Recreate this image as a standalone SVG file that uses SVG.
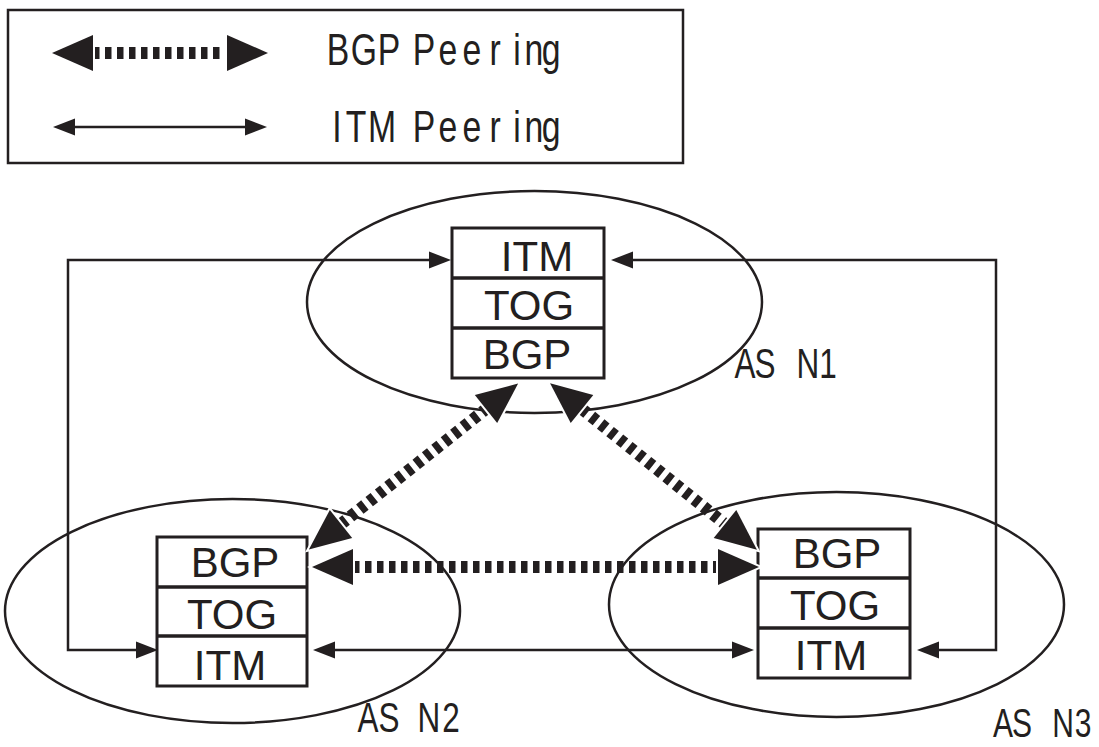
<svg xmlns="http://www.w3.org/2000/svg" width="1099" height="747" viewBox="0 0 1099 747">
  <defs>
    <style>
      .frame { fill: none; stroke: #231f20; stroke-width: 2.5; }
      .as { fill: none; stroke: #231f20; stroke-width: 2.5; }
      .stack { fill: #fff; stroke: #231f20; stroke-width: 3; }
      .div { stroke: #231f20; stroke-width: 3.5; }
      .cell { font-family: "Liberation Sans", Arial, sans-serif; font-size: 42px; fill: #231f20; text-anchor: middle; }
      .cond { font-family: "Liberation Sans", Arial, sans-serif; fill: #231f20; text-anchor: middle; }
      .itm { fill: none; stroke: #231f20; stroke-width: 2.5; marker-start: url(#itmHead); marker-end: url(#itmHead); }
      .bgp { fill: none; stroke: #231f20; stroke-width: 12; stroke-dasharray: 6.5 5.5; marker-start: url(#bgpHead); marker-end: url(#bgpHead); }
    </style>
    <marker id="bgpHead" markerUnits="userSpaceOnUse" orient="auto-start-reverse" refX="0" refY="0" markerWidth="50" markerHeight="46" viewBox="-4 -23 50 46" overflow="visible">
      <path d="M0,-18 L41,0 L0,18 Z" fill="#231f20" stroke="#fff" stroke-width="4" stroke-linejoin="miter" paint-order="stroke"/>
    </marker>
    <marker id="itmHead" markerUnits="userSpaceOnUse" orient="auto-start-reverse" refX="0" refY="0" markerWidth="26" markerHeight="20" viewBox="-2 -10 26 20" overflow="visible">
      <path d="M0,-8.5 L22,0 L0,8.5 Z" fill="#231f20"/>
    </marker>
  </defs>

  <rect width="1099" height="747" fill="#fff"/>

  <!-- legend -->
  <g id="legend">
    <rect class="frame" x="8" y="10" width="675" height="153"/>
    <line class="bgp" x1="93" y1="53" x2="227" y2="53"/>
    <line class="itm" x1="75" y1="127" x2="245" y2="127"/>
    <text class="cond" font-size="45" transform="scale(0.75,1)" y="65" x="450.7 485.3 518.7 541.3 565.3 597.3 629.3 660 689.3 712 734.7">BGP Peering</text>
    <text class="cond" font-size="45" transform="scale(0.75,1)" y="142" x="449.3 474.7 509.3 537.3 565.3 597.3 629.3 660 689.3 712 734.7">ITM Peering</text>
  </g>

  <!-- AS N1 -->
  <g id="as-n1">
    <ellipse class="as" cx="534.5" cy="302" rx="227.5" ry="111"/>
    <rect class="stack" x="452" y="228" width="152" height="150"/>
    <line class="div" x1="452" y1="278" x2="604" y2="278"/>
    <line class="div" x1="452" y1="328" x2="604" y2="328"/>
    <text class="cell" x="537" y="271">ITM</text>
    <text class="cell" x="529" y="320">TOG</text>
    <text class="cell" x="527" y="369">BGP</text>
    <text class="cond" font-size="42" transform="scale(0.75,1)" y="378" x="993.3 1020 1048 1077.3 1104">AS N1</text>
  </g>

  <!-- AS N2 -->
  <g id="as-n2">
    <ellipse class="as" cx="232.5" cy="611" rx="227.5" ry="112"/>
    <rect class="stack" x="157" y="537" width="150" height="149"/>
    <line class="div" x1="157" y1="587" x2="307" y2="587"/>
    <line class="div" x1="157" y1="636" x2="307" y2="636"/>
    <text class="cell" x="235" y="577">BGP</text>
    <text class="cell" x="232" y="629">TOG</text>
    <text class="cell" x="230" y="680">ITM</text>
    <text class="cond" font-size="42" transform="scale(0.75,1)" y="732" x="490.7 518.7 545.3 572 601.3">AS N2</text>
  </g>

  <!-- AS N3 -->
  <g id="as-n3">
    <ellipse class="as" cx="836.5" cy="604.5" rx="227.5" ry="112.5"/>
    <rect class="stack" x="758" y="529" width="152" height="149"/>
    <line class="div" x1="758" y1="578" x2="910" y2="578"/>
    <line class="div" x1="758" y1="628" x2="910" y2="628"/>
    <text class="cell" x="837" y="568">BGP</text>
    <text class="cell" x="835" y="620">TOG</text>
    <text class="cell" x="831" y="670">ITM</text>
    <text class="cond" font-size="40" transform="scale(0.75,1)" y="737" x="1337.3 1362.7 1389.3 1417.3 1444">AS N3</text>
  </g>

  <!-- peering connectors -->
  <g id="connectors">
    <polyline class="itm" points="429,260 68,260 68,650 136,650"/>
    <polyline class="itm" points="633,260 996,260 996,650 939,650"/>
    <line class="itm" x1="335" y1="650" x2="732" y2="650"/>
    <line class="bgp" x1="353" y1="567" x2="718" y2="567"/>
    <line class="bgp" x1="341" y1="524" x2="486" y2="409"/>
    <line class="bgp" x1="582" y1="409" x2="725" y2="524"/>
  </g>
</svg>
